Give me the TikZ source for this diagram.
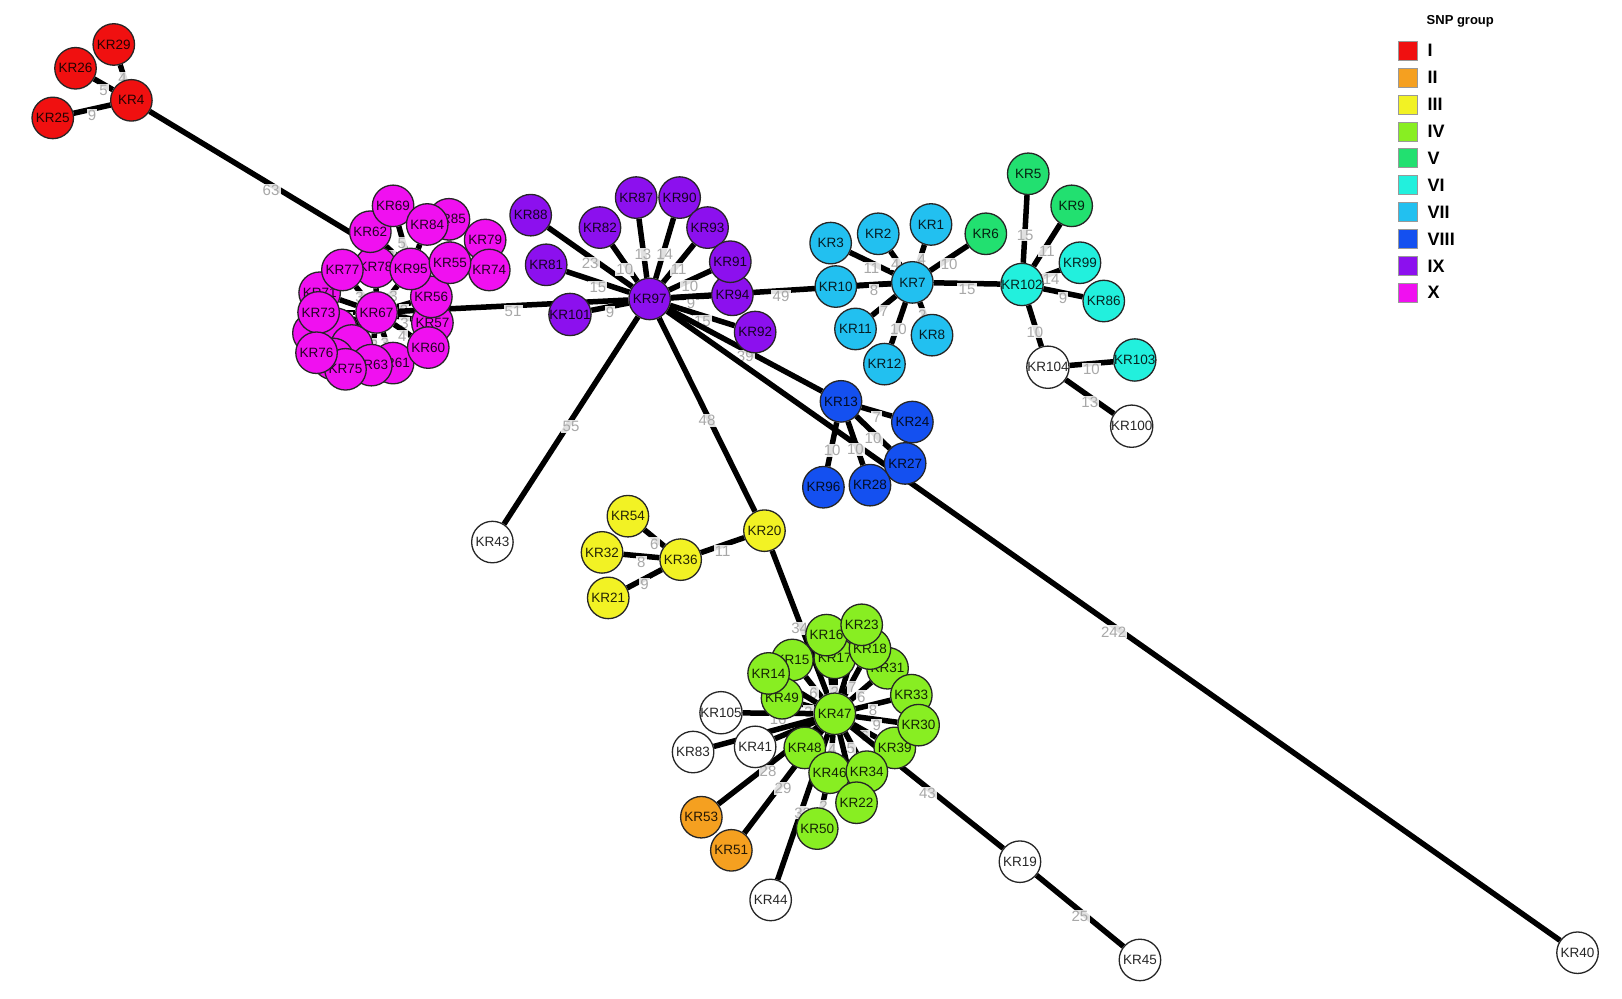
\documentclass[tikz,border=0pt]{standalone}
\usepackage{fontspec}
\setmainfont{Liberation Sans}
\pgfdeclarelayer{background}
\pgfdeclarelayer{backmost}
\pgfsetlayers{backmost,background,main}
\definecolor{cI}{HTML}{F01010}
\definecolor{cII}{HTML}{F5A020}
\definecolor{cIII}{HTML}{F2F224}
\definecolor{cIV}{HTML}{88EE22}
\definecolor{cV}{HTML}{22E070}
\definecolor{cVI}{HTML}{22F0DD}
\definecolor{cVII}{HTML}{22C0F0}
\definecolor{cVIII}{HTML}{1450F0}
\definecolor{cIX}{HTML}{8C10EE}
\definecolor{cX}{HTML}{F010F0}
\definecolor{cW}{HTML}{FFFFFF}
\definecolor{labgray}{HTML}{A8A8A8}
\tikzset{
  krn/.style={circle, draw=black!85, line width=1.3pt, minimum size=41.5pt, inner sep=0pt,
    font=\fontsize{13.5}{13.5}\selectfont, text=black, text opacity=0.85},
  edge/.style={line width=5.5pt, black},
  elab/.style={pos=0.5, yshift=-6pt, font=\fontsize{15}{15}\selectfont, text=labgray,
    fill=white, fill opacity=0.88, text opacity=1, inner sep=1.2pt},
  legsq/.style={draw=black!40, line width=0.6pt, minimum size=19pt, inner sep=0pt},
  legtx/.style={anchor=west, font=\bfseries\fontsize{18}{18}\selectfont, inner sep=0pt},
}
\newcommand\krnode[4]{\node[krn, fill=#4] (#1) at (#2,#3) {#1};}
\newcommand\edgl[3]{\draw[edge] (#1) -- (#2) node[elab]{#3};}
\newcommand\edgn[2]{\draw[edge] (#1) -- (#2);}
\begin{document}
\begin{tikzpicture}[x=1.0345pt, y=-1.0345pt]
\begin{pgfonlayer}{backmost}
\fill[white] (0,0) rectangle (1568,965);
\end{pgfonlayer}
\useasboundingbox (0,0) rectangle (1568,965);

% ---------- red ----------
\krnode{KR29}{110}{43}{cI}
\krnode{KR26}{73}{66}{cI}
\krnode{KR25}{51}{114}{cI}
\krnode{KR4}{127}{97}{cI}

% ---------- magenta (hidden first) ----------
\node[krn, fill=cX] (KR71) at (309,283) {KR71};
\node[krn, fill=cX] (KR72) at (303,322) {};
\node[krn, fill=cX] (KR70) at (325,318) {};
\node[krn, fill=cX] (KR68) at (340,334) {};
\node[krn, fill=cX] (KR66) at (322,347) {};
\krnode{KR73}{308}{302}{cX}
\krnode{KR61}{380}{351}{cX}
\krnode{KR63}{359}{353}{cX}
\krnode{KR75}{334}{357}{cX}
\krnode{KR76}{306}{341}{cX}
\krnode{KR57}{418}{312}{cX}
\krnode{KR60}{414}{336}{cX}
\krnode{KR56}{417}{287}{cX}
\krnode{KR67}{364}{302}{cX}
\krnode{KR78}{363}{258}{cX}
\krnode{KR77}{331}{261}{cX}
\krnode{KR62}{358}{224}{cX}
\krnode{KR69}{380}{199}{cX}
\krnode{KR85}{434}{212}{cX}
\krnode{KR84}{413}{217}{cX}
\krnode{KR95}{397}{260}{cX}
\krnode{KR79}{469}{232}{cX}
\krnode{KR74}{473}{261}{cX}
\krnode{KR55}{435}{254}{cX}

% ---------- purple ----------
\krnode{KR88}{513}{208}{cIX}
\krnode{KR82}{580}{220}{cIX}
\krnode{KR87}{615}{191}{cIX}
\krnode{KR90}{657}{191}{cIX}
\krnode{KR93}{684}{220}{cIX}
\krnode{KR94}{708}{285}{cIX}
\krnode{KR91}{706}{253}{cIX}
\krnode{KR92}{730}{321}{cIX}
\krnode{KR81}{528}{256}{cIX}
\krnode{KR101}{551}{304}{cIX}
\krnode{KR97}{628}{289}{cIX}

% ---------- cyan / green / sky ----------
\krnode{KR5}{994}{168}{cV}
\krnode{KR9}{1036}{199}{cV}
\krnode{KR6}{953}{226}{cV}
\krnode{KR1}{900}{217}{cVII}
\krnode{KR2}{849}{226}{cVII}
\krnode{KR3}{803}{235}{cVII}
\krnode{KR7}{882}{273}{cVII}
\krnode{KR10}{808}{277}{cVII}
\krnode{KR11}{827}{318}{cVII}
\krnode{KR8}{901}{324}{cVII}
\krnode{KR12}{855}{352}{cVII}
\krnode{KR102}{988}{275}{cVI}
\krnode{KR99}{1044}{254}{cVI}
\krnode{KR86}{1067}{291}{cVI}
\krnode{KR104}{1013}{355}{cW}
\krnode{KR103}{1097}{348}{cVI}
\krnode{KR100}{1094}{412}{cW}

% ---------- blue ----------
\krnode{KR13}{813}{388}{cVIII}
\krnode{KR24}{882}{408}{cVIII}
\krnode{KR27}{875}{448}{cVIII}
\krnode{KR96}{796}{471}{cVIII}
\krnode{KR28}{841}{469}{cVIII}

% ---------- yellow ----------
\krnode{KR54}{607}{499}{cIII}
\krnode{KR32}{582}{534}{cIII}
\krnode{KR36}{658}{541}{cIII}
\krnode{KR21}{588}{578}{cIII}
\krnode{KR20}{739}{513}{cIII}

% ---------- green ----------
\krnode{KR17}{807}{636}{cIV}
\krnode{KR16}{799}{614}{cIV}
\krnode{KR31}{858}{646}{cIV}
\krnode{KR18}{841}{627}{cIV}
\krnode{KR23}{833}{604}{cIV}
\krnode{KR15}{766}{638}{cIV}
\krnode{KR49}{756}{675}{cIV}
\krnode{KR14}{743}{651}{cIV}
\krnode{KR47}{807}{690}{cIV}
\krnode{KR33}{881}{672}{cIV}
\krnode{KR39}{865}{723}{cIV}
\krnode{KR30}{888}{701}{cIV}
\krnode{KR48}{778}{723}{cIV}
\krnode{KR46}{802}{747}{cIV}
\krnode{KR34}{838}{746}{cIV}
\krnode{KR22}{828}{776}{cIV}
\krnode{KR50}{790}{801}{cIV}

% ---------- orange and white ----------
\krnode{KR53}{678}{790}{cII}
\krnode{KR51}{707}{822}{cII}
\krnode{KR105}{697}{689}{cW}
\krnode{KR83}{670}{727}{cW}
\krnode{KR41}{730}{722}{cW}
\krnode{KR44}{745}{870}{cW}
\krnode{KR19}{986}{833}{cW}
\krnode{KR45}{1102}{928}{cW}
\krnode{KR40}{1525}{921}{cW}
\krnode{KR43}{476}{524}{cW}

% ---------- edges ----------
\begin{pgfonlayer}{background}
\edgl{KR4}{KR29}{4}
\edgl{KR4}{KR26}{5}
\edgl{KR4}{KR25}{9}
\edgl{KR4}{KR95}{63}
% magenta
\edgl{KR67}{KR77}{3}
\edgn{KR67}{KR78}
\edgl{KR67}{KR95}{3}
\edgl{KR67}{KR56}{3}
\edgl{KR67}{KR57}{3}
\edgl{KR67}{KR60}{4}
\edgl{KR67}{KR61}{3}
\edgl{KR67}{KR63}{2}
\edgl{KR67}{KR75}{3}
\edgl{KR67}{KR73}{5}
\edgn{KR67}{KR76}
\edgn{KR67}{KR71}
\edgn{KR67}{KR72}
\edgn{KR67}{KR70}
\edgn{KR67}{KR68}
\edgn{KR67}{KR66}
\edgl{KR95}{KR69}{5}
\edgl{KR95}{KR62}{2}
\edgn{KR95}{KR84}
\edgn{KR95}{KR55}
\edgn{KR55}{KR85}
\edgn{KR55}{KR79}
\edgn{KR55}{KR74}
\edgl{KR67}{KR97}{51}
% purple
\edgl{KR97}{KR88}{23}
\edgl{KR97}{KR82}{10}
\edgl{KR97}{KR87}{13}
\edgl{KR97}{KR90}{14}
\edgl{KR97}{KR93}{11}
\edgl{KR97}{KR91}{10}
\edgl{KR97}{KR94}{9}
\edgl{KR97}{KR92}{15}
\edgl{KR97}{KR81}{15}
\edgl{KR97}{KR101}{9}
\edgl{KR97}{KR43}{55}
\edgl{KR97}{KR20}{48}
\edgl{KR97}{KR13}{39}
\edgl{KR97}{KR40}{242}
\edgl{KR97}{KR7}{49}
% sky / cyan
\edgl{KR7}{KR3}{11}
\edgl{KR7}{KR2}{4}
\edgl{KR7}{KR1}{4}
\edgl{KR7}{KR6}{10}
\edgl{KR7}{KR10}{8}
\edgl{KR7}{KR11}{7}
\edgl{KR7}{KR12}{10}
\edgl{KR7}{KR8}{2}
\edgl{KR7}{KR102}{15}
\edgl{KR102}{KR5}{15}
\edgl{KR102}{KR9}{11}
\edgl{KR102}{KR99}{14}
\edgl{KR102}{KR86}{9}
\edgl{KR102}{KR104}{10}
\edgl{KR104}{KR103}{10}
\edgl{KR104}{KR100}{13}
% blue
\edgl{KR13}{KR24}{7}
\edgl{KR13}{KR27}{10}
\edgl{KR13}{KR96}{10}
\edgl{KR13}{KR28}{10}
% yellow
\edgl{KR20}{KR36}{11}
\edgl{KR36}{KR54}{6}
\edgl{KR36}{KR32}{8}
\edgl{KR36}{KR21}{9}
\edgl{KR20}{KR47}{34}
% green
\edgl{KR47}{KR15}{6}
\edgn{KR47}{KR14}
\edgl{KR47}{KR49}{3}
\edgn{KR47}{KR16}
\edgl{KR47}{KR17}{2}
\edgn{KR47}{KR23}
\edgl{KR47}{KR18}{7}
\edgl{KR47}{KR31}{6}
\edgl{KR47}{KR33}{8}
\edgl{KR47}{KR30}{9}
\edgl{KR47}{KR39}{6}
\edgl{KR47}{KR34}{5}
\edgl{KR47}{KR46}{4}
\edgn{KR47}{KR22}
\edgn{KR47}{KR48}
\edgl{KR46}{KR50}{2}
\edgl{KR47}{KR44}{32}
\edgl{KR47}{KR105}{16}
\edgn{KR47}{KR41}
\edgn{KR47}{KR83}
\edgl{KR47}{KR53}{28}
\edgl{KR47}{KR51}{29}
\edgl{KR47}{KR19}{43}
\edgl{KR19}{KR45}{25}
\end{pgfonlayer}

% ---------- legend ----------
\node[anchor=west, font=\bfseries\fontsize{13}{13}\selectfont, inner sep=0pt] (legtitle) at (1379,21) {SNP group};
\node[legsq, fill=cI]    (sq1)  at (1361,49)  {}; \node[legtx] (lt1)  at (1380,49)  {I};
\node[legsq, fill=cII]   (sq2)  at (1361,75)  {}; \node[legtx] (lt2)  at (1380,75)  {II};
\node[legsq, fill=cIII]  (sq3)  at (1361,101) {}; \node[legtx] (lt3)  at (1380,101) {III};
\node[legsq, fill=cIV]   (sq4)  at (1361,127) {}; \node[legtx] (lt4)  at (1380,127) {IV};
\node[legsq, fill=cV]    (sq5)  at (1361,153) {}; \node[legtx] (lt5)  at (1380,153) {V};
\node[legsq, fill=cVI]   (sq6)  at (1361,179) {}; \node[legtx] (lt6)  at (1380,179) {VI};
\node[legsq, fill=cVII]  (sq7)  at (1361,205) {}; \node[legtx] (lt7)  at (1380,205) {VII};
\node[legsq, fill=cVIII] (sq8)  at (1361,231) {}; \node[legtx] (lt8)  at (1380,231) {VIII};
\node[legsq, fill=cIX]   (sq9)  at (1361,257) {}; \node[legtx] (lt9)  at (1380,257) {IX};
\node[legsq, fill=cX]    (sq10) at (1361,283) {}; \node[legtx] (lt10) at (1380,283) {X};
\end{tikzpicture}
\end{document}
